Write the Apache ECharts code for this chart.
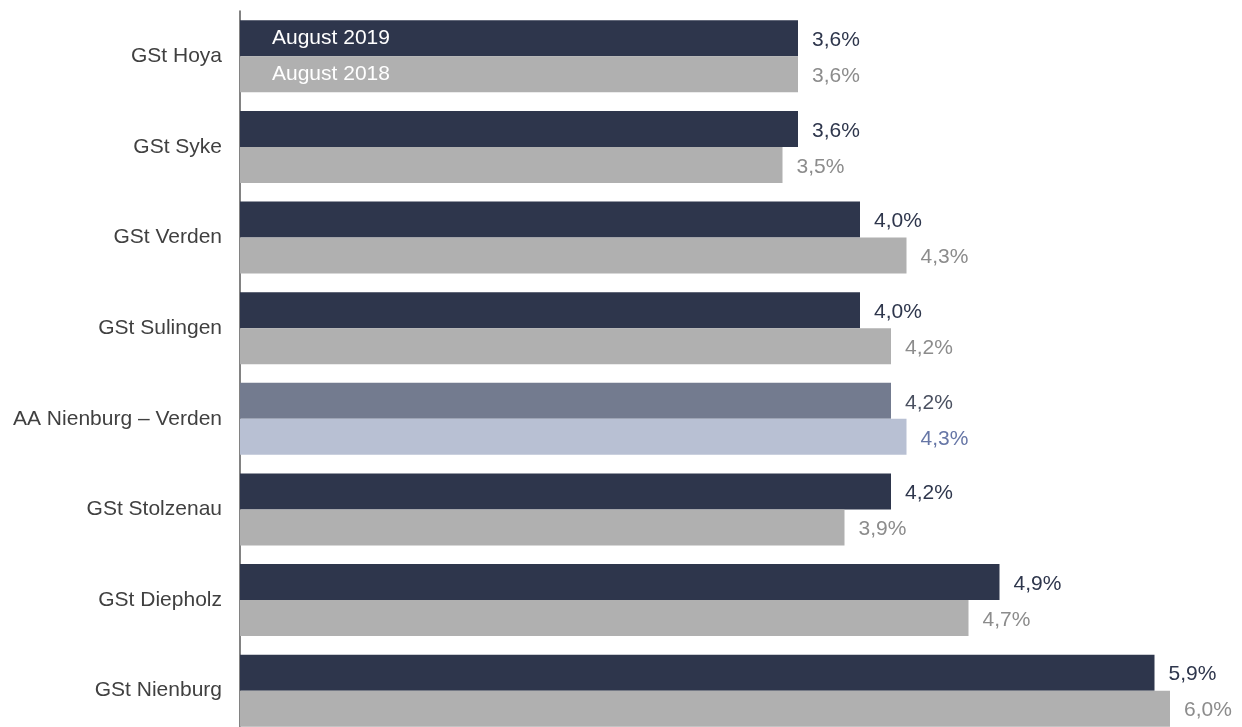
<!DOCTYPE html>
<html>
<head>
<meta charset="utf-8">
<script src="https://cdn.jsdelivr.net/npm/echarts@6/dist/echarts.min.js"></script>
<style>
  html, body { margin: 0; padding: 0; background: #fff; overflow: hidden; }
  /* chart is a bit taller than the window: the last band runs past the bottom edge */
  #chart { width: 1242px; height: 736px; }
</style>
</head>
<body>
<div id="chart"></div>
<script>
var categories = ['GSt Hoya', 'GSt Syke', 'GSt Verden', 'GSt Sulingen', 'AA Nienburg – Verden', 'GSt Stolzenau', 'GSt Diepholz', 'GSt Nienburg'];
var seriesNames = ['August 2019', 'August 2018'];
var aug2019 = [3.6, 3.6, 4.0, 4.0, 4.2, 4.2, 4.9, 5.9];
var aug2018 = [3.6, 3.5, 4.3, 4.2, 4.3, 3.9, 4.7, 6.0];
var highlightIndex = 4;

var dark = '#2e364c';
var gray = '#b0b0b0';
var darkHi = '#737b8f';
var grayHi = '#b8c0d3';
var fontSize = 21;

function fmt(v) { return v.toFixed(1).replace('.', ',') + '%'; }

function buildData(values, barColor, labelColor, hiBar, hiLabel) {
  return values.map(function(v, i) {
    var hi = i === highlightIndex;
    return {
      value: v,
      itemStyle: { color: hi ? hiBar : barColor },
      label: { color: hi ? hiLabel : labelColor }
    };
  });
}

var valueLabel = {
  show: true,
  position: 'right',
  distance: 14,
  offset: [0, 2],
  fontSize: fontSize,
  formatter: function(p) { return fmt(p.value); }
};

var chart = echarts.init(document.getElementById('chart'), null, { renderer: 'canvas' });
chart.setOption({
  animation: false,
  textStyle: { fontFamily: 'Liberation Sans, Arial, sans-serif' },
  legend: {
    data: seriesNames,
    orient: 'vertical',
    left: 267,
    top: 20,
    padding: 0,
    itemWidth: 0,
    itemHeight: 36,
    itemGap: 0,
    icon: 'rect',
    selectedMode: false,
    textStyle: { color: '#ffffff', fontSize: fontSize }
  },
  grid: { left: 240, top: 11, right: 10, bottom: 0 },
  xAxis: {
    type: 'value',
    min: 0,
    max: 6.4,
    show: false
  },
  yAxis: {
    type: 'category',
    data: categories,
    inverse: true,
    axisLine: { show: true, lineStyle: { color: '#595959', width: 1.5 } },
    axisTick: { show: false },
    axisLabel: { color: '#404040', fontSize: fontSize, margin: 18 },
    splitLine: { show: false }
  },
  series: [
    {
      name: seriesNames[0],
      type: 'bar',
      data: buildData(aug2019, dark, dark, darkHi, '#4a5060'),
      itemStyle: { color: dark },
      barGap: '0%',
      barCategoryGap: '20.5%',
      label: valueLabel
    },
    {
      name: seriesNames[1],
      type: 'bar',
      data: buildData(aug2018, gray, '#8c8c8c', grayHi, '#6676a6'),
      itemStyle: { color: gray },
      barGap: '0%',
      barCategoryGap: '20.5%',
      label: valueLabel
    }
  ]
});
</script>
</body>
</html>
